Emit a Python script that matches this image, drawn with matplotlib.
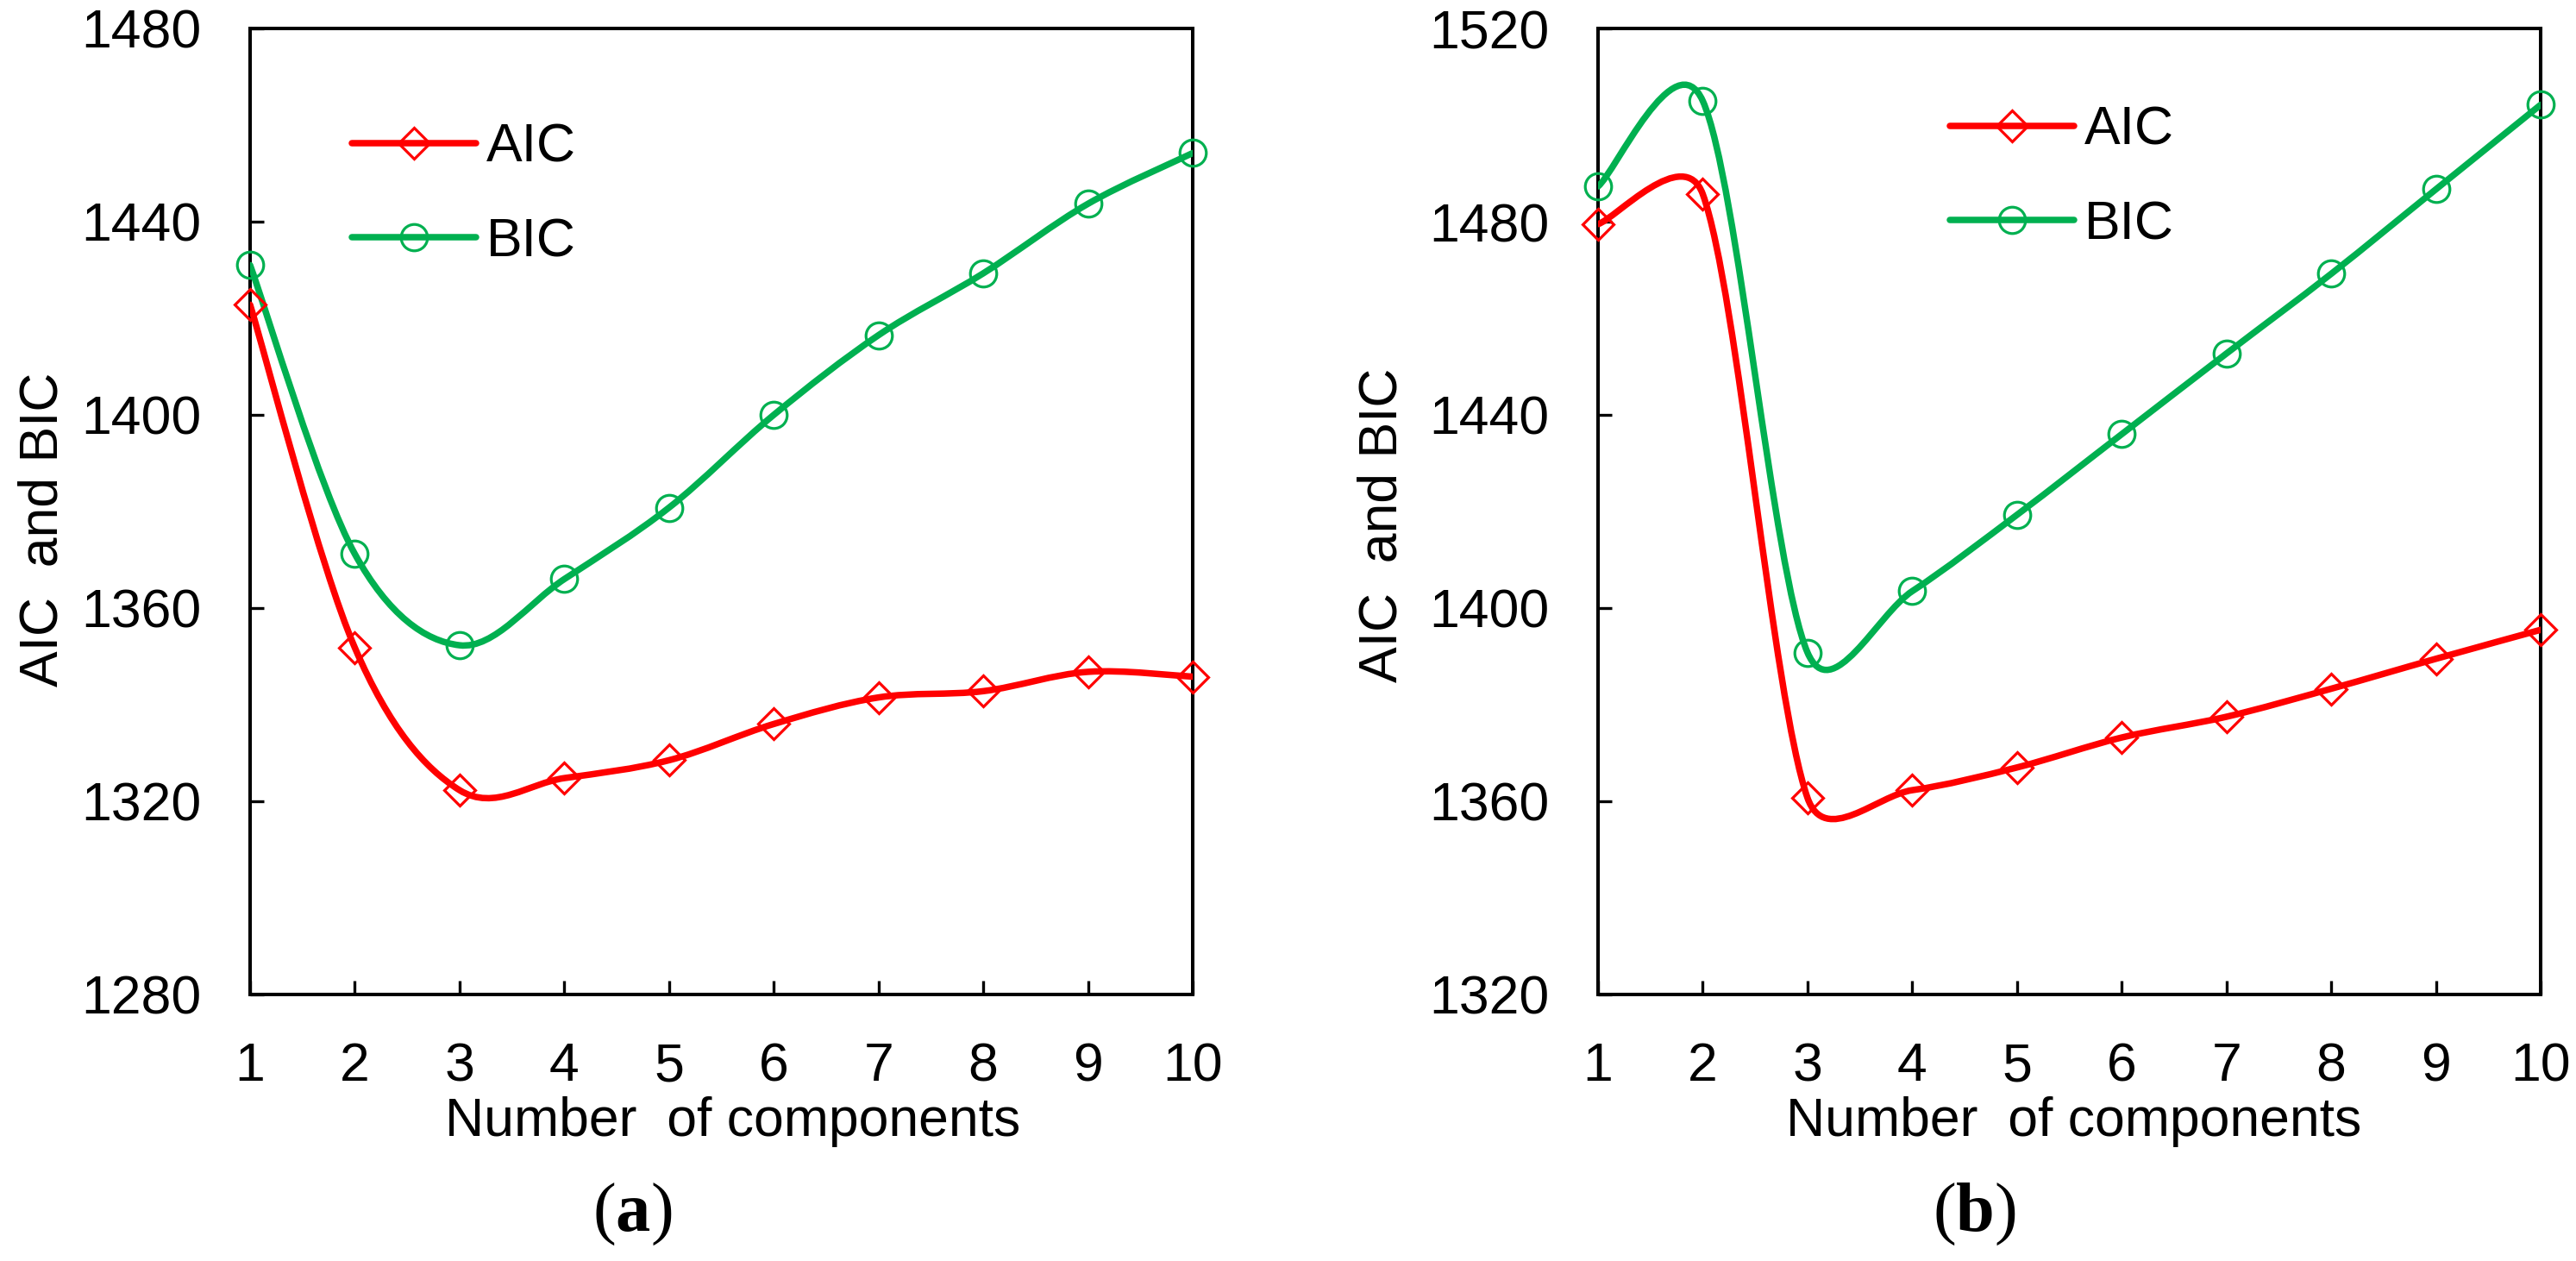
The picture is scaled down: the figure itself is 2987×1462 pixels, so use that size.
import numpy as np
import matplotlib
matplotlib.use('Agg')
import matplotlib.pyplot as plt
from matplotlib.path import Path
from matplotlib.patches import PathPatch
from matplotlib.lines import Line2D

plt.rcParams['font.family'] = ['Liberation Sans', 'DejaVu Sans']
plt.rcParams['mathtext.fontset'] = 'custom'
plt.rcParams['mathtext.rm'] = 'Liberation Serif'
plt.rcParams['mathtext.bf'] = 'Liberation Serif:bold'

# data
components = [1, 2, 3, 4, 5, 6, 7, 8, 9, 10]
aic_a = [1422.8, 1351.8, 1322.3, 1324.8, 1328.5, 1336.0, 1341.5, 1342.8, 1346.8, 1345.8]
bic_a = [1431.0, 1371.2, 1352.3, 1366.0, 1380.8, 1400.0, 1416.5, 1429.3, 1443.7, 1454.2]
aic_b = [1479.5, 1485.7, 1360.7, 1362.3, 1367.0, 1373.2, 1377.5, 1383.3, 1389.5, 1395.5]
bic_b = [1487.3, 1505.0, 1390.8, 1403.5, 1419.3, 1436.0, 1452.7, 1469.2, 1486.7, 1504.2]

RED = '#FF0000'
GREEN = '#00B050'
W, H = 2987, 1462
FS = 45


def smooth_line(ax, xs, ys, color):
    # excel style smoothed line: bezier, tangent/6, capped at half the segment
    pts = ax.transData.transform(np.column_stack([xs, ys]))
    n = len(pts)
    verts = [pts[0]]
    codes = [Path.MOVETO]
    for i in range(n - 1):
        p0 = pts[i - 1] if i > 0 else pts[i]
        p1 = pts[i]
        p2 = pts[i + 1]
        p3 = pts[i + 2] if i + 2 < n else pts[i + 1]
        seg = np.hypot(*(p2 - p1))
        t1 = (p2 - p0) / 6.0
        t2 = (p3 - p1) / 6.0
        l1 = np.hypot(*t1)
        l2 = np.hypot(*t2)
        if l1 > seg / 2:
            t1 = t1 * (seg / 2) / l1
        if l2 > seg / 2:
            t2 = t2 * (seg / 2) / l2
        verts += [p1 + t1, p2 - t2, p2]
        codes += [Path.CURVE4] * 3
    data_verts = ax.transData.inverted().transform(np.array(verts))
    patch = PathPatch(Path(data_verts, codes), fill=False, edgecolor=color,
                      lw=5.4, capstyle='round', joinstyle='round', zorder=3)
    ax.add_patch(patch)


def panel(left_px, ylo, yhi, aic, bic, leg_xy, ylab_xy, xlab_x, tag_x, tag):
    ax = fig.add_axes([left_px / W, 1 - 1153 / H, 1093 / W, 1120 / H])
    ax.set_xlim(1, 10)
    ax.set_ylim(ylo, yhi)
    ax.set_xticks(components)
    ax.set_yticks(np.arange(ylo, yhi + 1, 40))
    ax.tick_params(direction='in', length=11.5, width=2.4, pad=39,
                   labelsize=FS, top=False, right=False)
    ax.tick_params(axis='y', pad=41)
    for s in ax.spines.values():
        s.set_linewidth(2.9)

    smooth_line(ax, components, aic, RED)
    smooth_line(ax, components, bic, GREEN)
    ax.plot(components, aic, ls='none', marker='D', ms=18, mfc='none',
            mec=RED, mew=2.3, clip_on=False, zorder=5)
    ax.plot(components, bic, ls='none', marker='o', ms=22, mfc='none',
            mec=GREEN, mew=2.3, clip_on=False, zorder=5)

    handles = [Line2D([], [], color=RED, lw=5.4, marker='D', ms=18, mfc='none',
                      mec=RED, mew=2.3, solid_capstyle='round'),
               Line2D([], [], color=GREEN, lw=5.4, marker='o', ms=22, mfc='none',
                      mec=GREEN, mew=2.3, solid_capstyle='round')]
    ax.legend(handles, ['AIC', 'BIC'], loc='upper left',
              bbox_to_anchor=(leg_xy[0] / W, 1 - leg_xy[1] / H),
              bbox_transform=fig.transFigure, frameon=False, fontsize=FS,
              handlelength=2.3, handletextpad=0.2, borderpad=0,
              borderaxespad=0, labelspacing=0.8, numpoints=1)

    fig.text(ylab_xy[0] / W, 1 - ylab_xy[1] / H, 'AIC  and BIC', rotation=90,
             ha='center', va='center', fontsize=FS)
    fig.text(xlab_x / W, 1 - 1317 / H, 'Number  of components',
             ha='center', va='baseline', fontsize=FS)
    fig.text(tag_x / W, 1 - 1408 / H, r'($\mathbf{%s}$)' % tag,
             ha='center', va='center', fontsize=58, family='Liberation Serif')
    return ax


fig = plt.figure(figsize=(W / 100, H / 100), dpi=100)
panel(290, 1280, 1480, aic_a, bic_a, (408, 142), (50, 614), 850, 733, 'a')
panel(1853, 1320, 1520, aic_b, bic_b, (2261, 122), (1603, 609), 2405, 2289, 'b')

fig.savefig('out.png', dpi=100)
